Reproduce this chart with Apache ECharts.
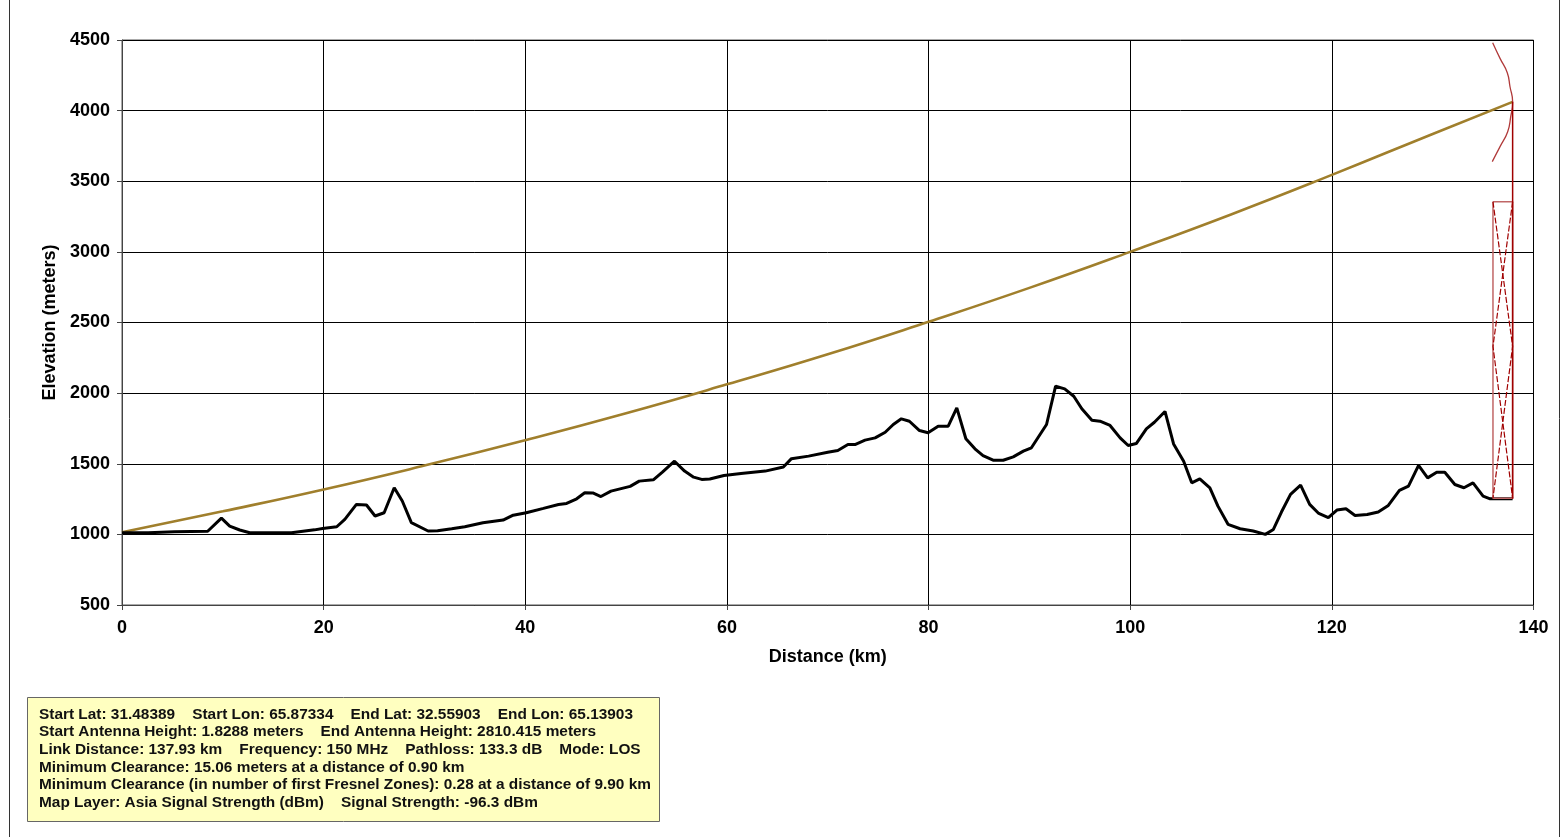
<!DOCTYPE html>
<html>
<head>
<meta charset="utf-8">
<script src="https://cdn.jsdelivr.net/npm/echarts@6/dist/echarts.min.js"></script>
<style>
html,body{margin:0;padding:0;background:#fff;}
#chart{width:1564px;height:837px;}
</style>
</head>
<body>
<div id="chart"></div>
<script>
// Terrain profile (distance km, elevation m)
const terrainKm = [0,2.6,5.2,8.5,9.86,10.68,11.68,12.67,16.8,19.1,19.9,21.3,22.1,23.25,24.25,25.1,26.0,27.0,27.8,28.7,30.36,31.3,32.7,34.0,35.8,37.8,38.8,40.1,41.8,43.3,44.1,45.1,45.9,46.7,47.5,48.5,50.4,51.3,52.7,53.6,54.8,55.8,56.7,57.5,58.3,59.7,61.4,63.8,65.6,66.4,68.1,70.0,71.0,72.0,72.7,73.7,74.7,75.7,76.5,77.3,78.1,79.1,79.95,80.95,81.95,82.8,83.7,84.6,85.4,86.4,87.4,88.4,89.4,90.2,91.7,92.6,93.5,94.4,95.2,96.2,97.0,98.0,99.0,99.8,100.6,101.6,102.4,103.45,104.3,105.3,106.1,106.9,107.9,108.7,109.7,110.9,112.2,113.4,114.2,115.0,115.9,116.9,117.8,118.7,119.65,120.5,121.4,122.3,123.5,124.6,125.6,126.7,127.6,128.6,129.5,130.4,131.2,132.2,133.1,134.0,135.0,135.7,137.93];
const terrainM = [1012,1012,1018,1022,1115,1059,1031,1012,1012,1032,1042,1054,1106,1212,1208,1130,1153,1330,1236,1083,1024,1026,1040,1054,1082,1101,1136,1153,1184,1212,1219,1252,1295,1293,1268,1306,1340,1377,1386,1440,1518,1448,1405,1389,1392,1417,1431,1448,1477,1536,1554,1582,1594,1636,1636,1667,1683,1723,1778,1818,1801,1735,1719,1766,1766,1896,1677,1606,1558,1525,1525,1549,1589,1613,1778,2049,2030,1978,1889,1808,1801,1771,1683,1629,1643,1747,1794,1870,1640,1518,1365,1393,1329,1200,1071,1040,1024,1000,1035,1158,1283,1349,1212,1148,1118,1172,1181,1134,1141,1158,1205,1311,1342,1488,1400,1440,1440,1353,1330,1365,1271,1252,1252];

// Line of sight
const losKm = [0,10,20,30,40,50,60,70,80,90,100,110,120,130,137.93];
const losM  = [1015,1163,1318,1487,1667,1858,2062,2275,2505,2745,3000,3265,3545,3835,4062];

// Fresnel zone arc near end
const fresnelKm = [135.95,136.68,137.4,137.67,137.93,137.74,137.44,136.68,135.91];
const fresnelM  = [4481,4370,4268,4169,4063,3957,3851,3745,3639];

// End tower drawing
const mastKm = [137.93,137.93];
const mastM  = [4062,1252];
const boxKm = [135.98,137.93,137.93,135.98,135.98];
const boxM  = [3355,3355,1256,1256,3355];
const braceAKm = [135.98,137.93,135.98];
const braceAM  = [3355,2331,1256];
const braceBKm = [137.93,135.98,137.93];
const braceBM  = [3355,2331,1256];

// Axis ticks
const xTicks = [0,20,40,60,80,100,120,140];
const yTicks = [500,1000,1500,2000,2500,3000,3500,4000,4500];

const infoLines = [
  'Start Lat: 31.48389    Start Lon: 65.87334    End Lat: 32.55903    End Lon: 65.13903',
  'Start Antenna Height: 1.8288 meters    End Antenna Height: 2810.415 meters',
  'Link Distance: 137.93 km    Frequency: 150 MHz    Pathloss: 133.3 dB    Mode: LOS',
  'Minimum Clearance: 15.06 meters at a distance of 0.90 km',
  'Minimum Clearance (in number of first Fresnel Zones): 0.28 at a distance of 9.90 km',
  'Map Layer: Asia Signal Strength (dBm)    Signal Strength: -96.3 dBm'
];

const zip = (a, b) => a.map((v, i) => [v, b[i]]);
const FONT = '"Liberation Sans", Arial, sans-serif';

const chart = echarts.init(document.getElementById('chart'), null, {renderer: 'canvas'});

const infoText = infoLines.map((t, i) => ({
  type: 'text',
  x: 39,
  y: 715 + i * 17.6,
  scaleX: 1.1,
  style: {text: t, x: 0, y: 0, font: 'bold 14px ' + FONT, fill: '#111', verticalAlign: 'middle', textVerticalAlign: 'middle'}
}));

const labelStyle = {fontFamily: FONT, fontWeight: 'bold', fontSize: 18, color: '#000'};

chart.setOption({
  animation: false,
  backgroundColor: '#fff',
  grid: {left: 122, right: 30.5, top: 40, bottom: 232, show: true, borderColor: '#555', borderWidth: 1},
  xAxis: {
    type: 'value', min: xTicks[0], max: xTicks[xTicks.length - 1], interval: 20,
    name: 'Distance (km)', nameLocation: 'middle', nameGap: 43,
    nameTextStyle: labelStyle,
    axisLine: {show: true, onZero: false, lineStyle: {color: '#444', width: 1}},
    axisTick: {show: true, length: 5, lineStyle: {color: '#444'}},
    axisLabel: Object.assign({margin: 14}, labelStyle),
    splitLine: {show: true, lineStyle: {color: '#000', width: 1}}
  },
  yAxis: {
    type: 'value', min: yTicks[0], max: yTicks[yTicks.length - 1], interval: 500,
    name: 'Elevation (meters)', nameLocation: 'middle', nameGap: 63, nameRotate: 90,
    nameTextStyle: labelStyle,
    axisLine: {show: true, lineStyle: {color: '#444', width: 1}},
    axisTick: {show: true, length: 5, lineStyle: {color: '#444'}},
    axisLabel: Object.assign({margin: 12, formatter: v => String(v)}, labelStyle),
    splitLine: {show: true, lineStyle: {color: '#000', width: 1}}
  },
  series: [
    {type: 'line', data: zip(losKm, losM), smooth: true, symbol: 'none',
     lineStyle: {color: '#a07f2c', width: 2.6}, z: 3},
    {type: 'line', data: zip(terrainKm, terrainM), symbol: 'none',
     lineStyle: {color: '#000', width: 3}, z: 4},
    {type: 'line', data: zip(fresnelKm, fresnelM), smooth: true, symbol: 'none',
     lineStyle: {color: '#b03a3a', width: 1.3}, z: 5},
    {type: 'line', data: zip(boxKm, boxM), symbol: 'none',
     lineStyle: {color: '#c06666', width: 1.5}, z: 5},
    {type: 'line', data: zip(braceAKm, braceAM), symbol: 'none',
     lineStyle: {color: '#a00000', width: 1.2, type: [6, 2]}, z: 5},
    {type: 'line', data: zip(braceBKm, braceBM), symbol: 'none',
     lineStyle: {color: '#a00000', width: 1.2, type: [6, 2]}, z: 5},
    {type: 'line', data: zip(mastKm, mastM), symbol: 'none',
     lineStyle: {color: '#a00000', width: 1.5}, z: 6}
  ],
  graphic: [
    {type: 'rect', shape: {x: 9.5, y: -2, width: 1550, height: 841},
     style: {fill: null, stroke: '#333', lineWidth: 1}, silent: true},
    {type: 'rect', shape: {x: 27.5, y: 697.5, width: 632, height: 124},
     style: {fill: '#ffffc0', stroke: '#666', lineWidth: 1}, silent: true},
    ...infoText
  ]
});
</script>
</body>
</html>
